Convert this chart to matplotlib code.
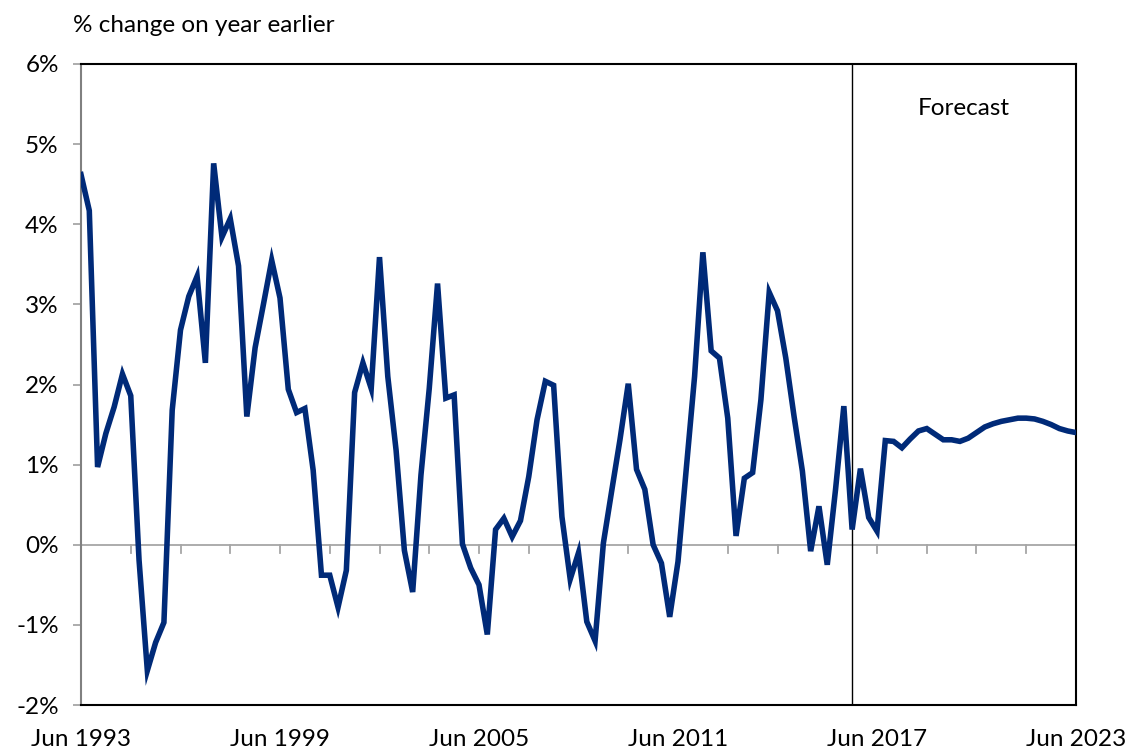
import matplotlib
matplotlib.use("Agg")
import matplotlib.pyplot as plt
import numpy as np

plt.rcParams['font.family'] = ['Lato', 'DejaVu Sans']

# Quarterly, Jun 1993 .. Jun 2023, % change on year earlier
values = [
    4.62, 4.17, 0.97, 1.39, 1.72, 2.13, 1.86, -0.19, -1.57, -1.22,
    -0.97, 1.68, 2.68, 3.10, 3.35, 2.27, 4.76, 3.84, 4.07, 3.48,
    1.60, 2.46, 3.00, 3.55, 3.08, 1.94, 1.65, 1.70, 0.93, -0.38,
    -0.38, -0.78, -0.32, 1.90, 2.27, 1.95, 3.59, 2.10, 1.18, -0.07,
    -0.59, 0.87, 1.95, 3.26, 1.83, 1.87, 0.01, -0.29, -0.50, -1.12,
    0.19, 0.33, 0.10, 0.30, 0.85, 1.56, 2.04, 1.99, 0.35, -0.43,
    -0.10, -0.96, -1.20, 0.02, 0.67, 1.31, 2.01, 0.94, 0.69, 0.00,
    -0.23, -0.90, -0.21, 0.95, 2.10, 3.65, 2.42, 2.33, 1.58, 0.11,
    0.83, 0.90, 1.81, 3.15, 2.92, 2.33, 1.60, 0.92, -0.08, 0.48,
    -0.25, 0.69, 1.73, 0.19, 0.95, 0.34, 0.17, 1.30, 1.29, 1.21,
    1.32, 1.42, 1.45, 1.38, 1.31, 1.31, 1.29, 1.33, 1.40, 1.47,
    1.51, 1.54, 1.56, 1.58, 1.58, 1.57, 1.54, 1.50, 1.45, 1.42,
    1.40,
]
x_labels = ["Jun 1993", "Jun 1999", "Jun 2005", "Jun 2011", "Jun 2017", "Jun 2023"]
y_ticks = [-2, -1, 0, 1, 2, 3, 4, 5, 6]
forecast_start = 93  # quarter index where forecast begins
ylabel = "% change on year earlier"
forecast_text = "Forecast"

W, H = 1129, 753
fig = plt.figure(figsize=(W / 100, H / 100), dpi=100)
ax = fig.add_axes([81 / W, 1 - 705 / H, (1076 - 81) / W, (705 - 64) / H])

x = np.arange(len(values))
ax.plot(x, values, color="#002A78", lw=4.0, solid_joinstyle="miter", zorder=3)

ax.set_xlim(0, len(values) - 1)
ax.set_ylim(-2, 6)

# zero line with tick marks
ax.axhline(0, color="#a6a6a6", lw=1.3, zorder=1)
for xi in range(0, len(values), 6):
    ax.plot([xi, xi], [0, -0.1], color="#a6a6a6", lw=1.3, zorder=1, clip_on=False)

# forecast divider
ax.axvline(forecast_start, color="black", lw=1.0, zorder=2)
ax.text(106.5, 5.45, forecast_text, fontsize=17.5, ha="center", va="center")

ax.set_yticks(y_ticks)
ax.set_yticklabels([f"{v}%" for v in y_ticks], fontsize=17.5)
ax.tick_params(axis="y", direction="out", length=6, color="#a6a6a6", width=1.3, pad=10)
ax.set_xticks(range(0, len(values), 24))
ax.set_xticklabels(x_labels, fontsize=17.5)
ax.tick_params(axis="x", length=0, pad=17)

for s in ["top", "right", "bottom"]:
    ax.spines[s].set_color("black")
    ax.spines[s].set_linewidth(1.5)
ax.spines["left"].set_color("#808080")
ax.spines["left"].set_linewidth(1.5)

fig.text(73 / W, 1 - 25 / H, ylabel, fontsize=17.5, ha="left", va="center")

fig.savefig("out.png", dpi=100)
